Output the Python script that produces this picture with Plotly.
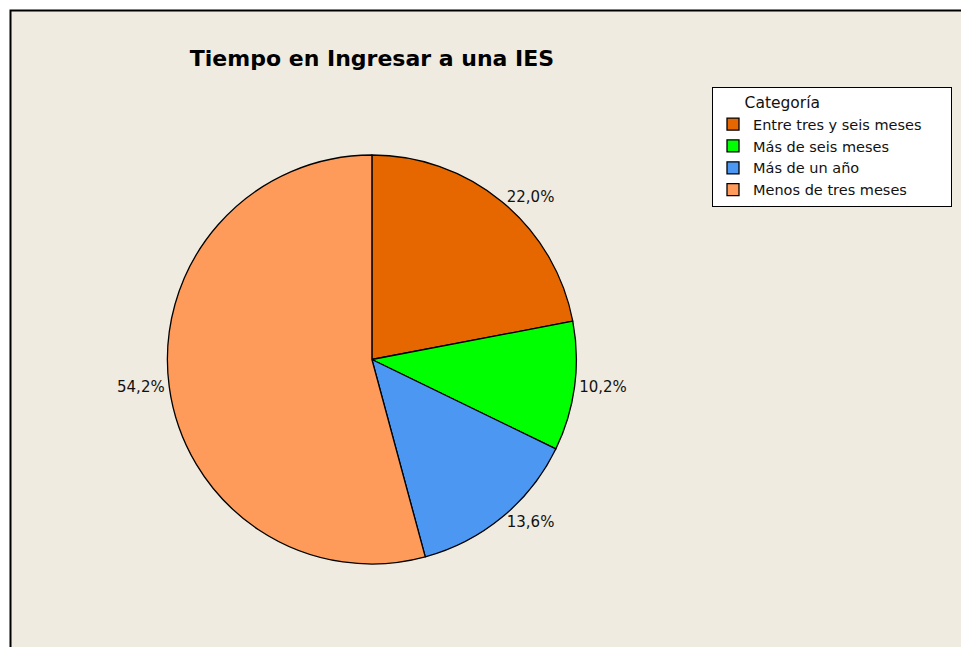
import plotly.graph_objects as go

# datos del gráfico
categorias = ["Entre tres y seis meses", "Más de seis meses", "Más de un año", "Menos de tres meses"]
porcentajes = [22.0, 10.2, 13.6, 54.2]
colores = ["#E66600", "#00FF00", "#4B97F2", "#FF9B5A"]

fig = go.Figure()
fig.add_trace(go.Pie(
    labels=categorias,
    values=porcentajes,
    sort=False,
    direction="clockwise",
    rotation=0,
    marker=dict(colors=colores, line=dict(color="black", width=1.3)),
    textposition="outside",
    texttemplate="%{value:.1f}%",
    textfont=dict(family="DejaVu Sans", size=15, color="#111"),
    domain=dict(x=[0.08, 0.694], y=[83 / 647, 492 / 647]),
    showlegend=True,
))

# fondo beige con marco
fig.add_shape(type="rect", xref="paper", yref="paper",
              x0=10.5 / 961, x1=1.02, y0=-0.02, y1=1 - 10.5 / 647,
              fillcolor="#EFEBE0", line=dict(color="black", width=2), layer="below")

titulo_leyenda = "\u00a0" * 6 + "Categoría" + "\u00a0" * 26

fig.update_layout(
    width=961, height=647,
    margin=dict(l=0, r=0, t=0, b=0, autoexpand=False),
    paper_bgcolor="white",
    separators=",.",
    title=dict(text="<b>Tiempo en Ingresar a una IES</b>", x=372 / 961, xanchor="center",
               y=1 - 58 / 647, yanchor="middle",
               font=dict(family="DejaVu Sans", size=22, color="black")),
    legend=dict(
        x=712 / 961, xanchor="left", y=1 - 87 / 647, yanchor="top",
        bgcolor="white", bordercolor="black", borderwidth=1,
        font=dict(family="DejaVu Sans", size=14.5, color="#111"),
        title=dict(text=titulo_leyenda, side="top",
                   font=dict(family="DejaVu Sans", size=15.5, color="#111")),
        traceorder="normal",
    ),
    font=dict(family="DejaVu Sans"),
)

fig.write_html("out.html", config={"displayModeBar": False},
               post_script="document.body.style.margin='0';")
